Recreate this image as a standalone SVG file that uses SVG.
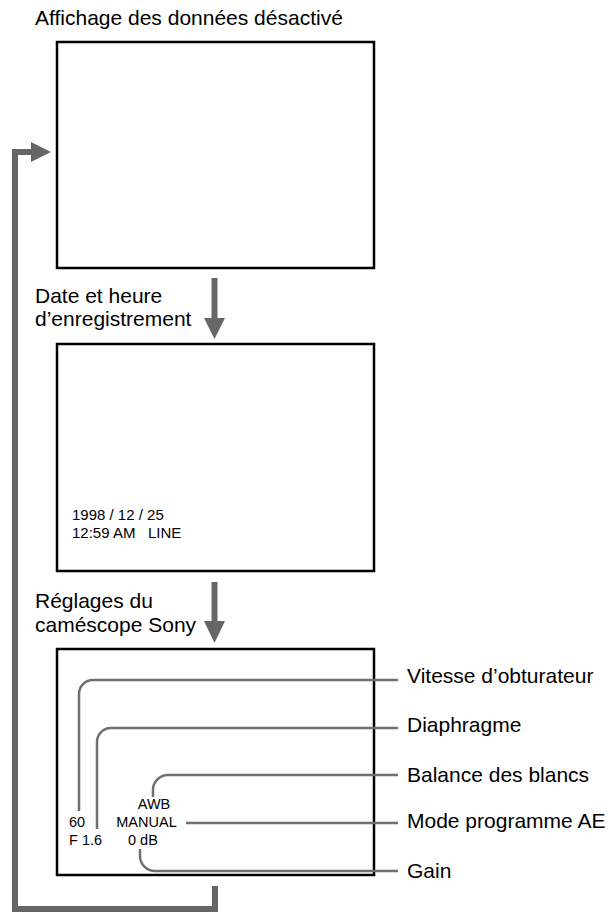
<svg xmlns="http://www.w3.org/2000/svg" width="611" height="914" viewBox="0 0 611 914">
<style>
text{font-family:"Liberation Sans",Arial,sans-serif;fill:#000}
.t{font-size:21px}
.s{font-size:14.5px}
.d{font-size:15px}
.box{fill:#fff;stroke:#000;stroke-width:2.5}
.flow{fill:none;stroke:#666;stroke-width:6}
.head{fill:#666}
.lead{fill:none;stroke:#707070;stroke-width:2.5}
</style>
<rect width="611" height="914" fill="#fff"/>
<g id="screen1">
<text class="t" x="35" y="25">Affichage des données désactivé</text>
<rect class="box" x="57" y="42" width="317" height="226"/>
</g>
<g id="screen2">
<text class="t" x="35" y="303">Date et heure</text>
<text class="t" x="35" y="326">d’enregistrement</text>
<rect class="box" x="57" y="344" width="317" height="227"/>
<text class="d" x="72" y="520">1998 / 12 / 25</text>
<text class="d" x="72" y="538" xml:space="preserve">12:59 AM   LINE</text>
</g>
<g id="screen3">
<text class="t" x="35" y="608">Réglages du</text>
<text class="t" x="35" y="632">caméscope Sony</text>
<rect class="box" x="57" y="649" width="317" height="226"/>
<text class="s" x="154" y="809" text-anchor="middle">AWB</text>
<text class="s" x="146.5" y="827" text-anchor="middle">MANUAL</text>
<text class="s" x="69" y="827">60</text>
<text class="s" x="69" y="845">F 1.6</text>
<text class="s" x="128" y="845">0 dB</text>
</g>
<g id="labels">
<text class="t" x="407" y="683">Vitesse d’obturateur</text>
<text class="t" x="407" y="732">Diaphragme</text>
<text class="t" x="407" y="782">Balance des blancs</text>
<text class="t" x="407" y="828">Mode programme AE</text>
<text class="t" x="407" y="878">Gain</text>
</g>
<g id="connectors">
<path class="lead" d="M398,680 H93 A14,14 0 0 0 79,694 V811"/>
<path class="lead" d="M398,728 H111 A14,14 0 0 0 97,742 V829"/>
<path class="lead" d="M398,775 H168 A15,15 0 0 0 153,790 V797"/>
<path class="lead" d="M398,823 H186"/>
<path class="lead" d="M398,871 H155 A15,15 0 0 1 140,856 V849"/>
<path class="flow" d="M214.5,278 V320"/>
<polygon class="head" points="204,318 225,318 214.5,339"/>
<path class="flow" d="M214.5,582 V623"/>
<polygon class="head" points="204,621 225,621 214.5,643"/>
<path class="flow" d="M215,886 V909 H15 V152 H32" stroke-linejoin="miter"/>
<polygon class="head" points="31,142 51,152 31,162"/>
</g>
</svg>
